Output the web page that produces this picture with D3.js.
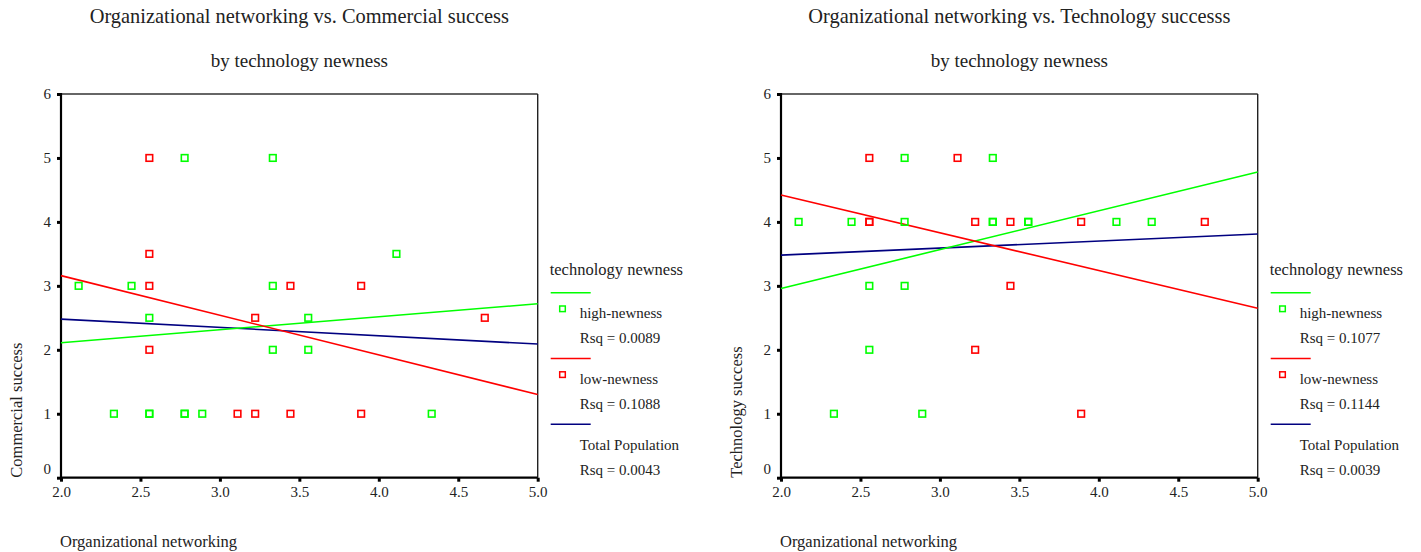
<!DOCTYPE html>
<html>
<head>
<meta charset="utf-8">
<script src="https://cdn.jsdelivr.net/npm/d3@7"></script>
<style>
  html, body { margin: 0; padding: 0; background: #fff; }
  svg { display: block; }
  text { font-family: "Liberation Serif", "DejaVu Serif", serif; fill: #222; }
</style>
</head>
<body>
<svg id="chart" width="1421" height="552"></svg>
<script>
// Axis ticks
const xTicks = [2.0, 2.5, 3.0, 3.5, 4.0, 4.5, 5.0];
const yTicks = [0, 1, 2, 3, 4, 5, 6];

// Organizational networking (x) vs. Commercial success (y)
const commercialHigh = [[2.778,5],[3.333,5],[2.111,3],[2.444,3],[3.333,3],[2.556,2.5],[4.111,3.5],[3.556,2.5],[3.333,2],[3.556,2],[2.333,1],[2.556,1],[2.556,1],[2.778,1],[2.778,1],[2.889,1],[4.333,1]];
const commercialLow = [[2.556,5],[2.556,3.5],[2.556,3],[3.444,3],[3.222,2.5],[3.889,3],[4.667,2.5],[2.556,2],[3.111,1],[3.222,1],[3.444,1],[3.889,1]];

// Organizational networking (x) vs. Technology success (y)
const technologyHigh = [[2.778,5],[3.333,5],[2.111,4],[2.444,4],[2.778,4],[3.333,4],[3.333,4],[3.556,4],[3.556,4],[4.111,4],[4.333,4],[2.556,3],[2.778,3],[2.556,2],[2.333,1],[2.889,1]];
const technologyLow = [[2.556,5],[3.111,5],[2.556,4],[2.556,4],[3.222,4],[3.444,4],[3.889,4],[4.667,4],[3.444,3],[3.222,2],[3.889,1]];

// Linear fit lines: fitted y at x = 2.0 and x = 5.0
const commercialFitHigh = [2.11, 2.72];
const commercialFitLow = [3.16, 1.30];
const commercialFitTotal = [2.48, 2.09];
const technologyFitHigh = [2.96, 4.78];
const technologyFitLow = [4.42, 2.65];
const technologyFitTotal = [3.48, 3.81];

// Legend
const groupNames = ["high-newness", "low-newness", "Total Population"];
const commercialRsq = ["0.0089", "0.1088", "0.0043"];
const technologyRsq = ["0.1077", "0.1144", "0.0039"];

const colors = { high: "#00ff00", low: "#ff0000", total: "#000080" };

const svg = d3.select("#chart");

function drawPanel(cfg) {
  const x0 = cfg.left, x1 = cfg.left + 476.7;
  const yTop = 94, yBot = 477.7;
  const x = d3.scaleLinear().domain([2, 5]).range([x0, x1]);
  const y = d3.scaleLinear().domain([0, 6]).range([yBot, yTop]);
  const g = svg.append("g");

  // Titles
  const cx = (x0 + x1) / 2;
  g.append("text").attr("x", cx).attr("y", 23).attr("text-anchor", "middle")
    .style("font-size", "20.4px").text(cfg.title);
  g.append("text").attr("x", cx).attr("y", 67).attr("text-anchor", "middle")
    .style("font-size", "19px").text("by technology newness");

  // Frame: top and right edges
  g.append("line").attr("x1", x0).attr("x2", x1).attr("y1", yTop).attr("y2", yTop)
    .attr("stroke", "#333").attr("stroke-width", 1.6);
  g.append("line").attr("x1", x1).attr("x2", x1).attr("y1", yTop).attr("y2", yBot)
    .attr("stroke", "#222").attr("stroke-width", 1.4);

  // Axes
  const yAxis = d3.axisLeft(y).tickValues(yTicks).tickFormat(d3.format("d"))
    .tickSize(4).tickPadding(6);
  const gy = g.append("g").attr("transform", `translate(${x0},0)`).call(yAxis);
  const xAxis = d3.axisBottom(x).tickValues(xTicks).tickFormat(d3.format(".1f"))
    .tickSize(4).tickPadding(5);
  const gx = g.append("g").attr("transform", `translate(0,${yBot})`).call(xAxis);
  [gx, gy].forEach(a => {
    a.select(".domain").remove();
    a.selectAll(".tick line").attr("stroke", "#000").attr("stroke-width", 3);
    a.selectAll(".tick text").style("font-family", "Liberation Serif, serif")
      .style("font-size", "15px").attr("fill", "#222");
  });
  gy.selectAll(".tick text").filter(d => d === 0).attr("dy", "-0.3em");

  g.append("line").attr("x1", x0).attr("x2", x0).attr("y1", yTop - 1).attr("y2", yBot + 1)
    .attr("stroke", "#000").attr("stroke-width", 2.2);
  g.append("line").attr("x1", x0 - 1).attr("x2", x1).attr("y1", yBot).attr("y2", yBot)
    .attr("stroke", "#000").attr("stroke-width", 2.2);

  // Axis labels
  g.append("text").attr("x", x0 - 1).attr("y", 547).style("font-size", "16.5px")
    .text("Organizational networking");
  g.append("text").attr("transform", `translate(${x0 - 39},${yBot}) rotate(-90)`)
    .style("font-size", "16.5px").text(cfg.yLabel);

  // Fit lines
  const fit = (vals, c) => g.append("line")
    .attr("x1", x(2)).attr("y1", y(vals[0])).attr("x2", x(5)).attr("y2", y(vals[1]))
    .attr("stroke", c).attr("stroke-width", 1.6);
  fit(cfg.fitTotal, colors.total);
  fit(cfg.fitHigh, colors.high);
  fit(cfg.fitLow, colors.low);

  // Points
  const pts = (data, c) => g.append("g").selectAll("rect").data(data).join("rect")
    .attr("x", d => x(d[0]) - 3.3).attr("y", d => y(d[1]) - 3.3)
    .attr("width", 6.6).attr("height", 6.6)
    .attr("fill", "none").attr("stroke", c).attr("stroke-width", 1.6);
  pts(cfg.high, colors.high);
  pts(cfg.low, colors.low);

  // Legend
  const lx = x1 + 13;
  const lg = g.append("g");
  lg.append("text").attr("x", lx - 1).attr("y", 275).style("font-size", "16.5px")
    .text("technology newness");
  const entries = [
    { name: groupNames[0], rsq: cfg.rsq[0], c: colors.high, marker: true },
    { name: groupNames[1], rsq: cfg.rsq[1], c: colors.low, marker: true },
    { name: groupNames[2], rsq: cfg.rsq[2], c: colors.total, marker: false }
  ];
  entries.forEach((e, i) => {
    const top = 292.7 + i * 65.8;
    lg.append("line").attr("x1", lx).attr("x2", lx + 40).attr("y1", top).attr("y2", top)
      .attr("stroke", e.c).attr("stroke-width", 1.6);
    if (e.marker) {
      lg.append("rect").attr("x", lx + 9).attr("y", top + 13.3).attr("width", 5.6).attr("height", 5.6)
        .attr("fill", "none").attr("stroke", e.c).attr("stroke-width", 1.5);
    }
    lg.append("text").attr("x", lx + 29).attr("y", top + 20).attr("dy", "0.35em")
      .style("font-size", "15px").text(e.name);
    lg.append("text").attr("x", lx + 29).attr("y", top + 45.5).attr("dy", "0.35em")
      .style("font-size", "15px").text("Rsq = " + e.rsq);
  });
}

drawPanel({
  left: 61,
  title: "Organizational networking vs. Commercial success",
  yLabel: "Commercial success",
  high: commercialHigh, low: commercialLow,
  fitHigh: commercialFitHigh, fitLow: commercialFitLow, fitTotal: commercialFitTotal,
  rsq: commercialRsq
});
drawPanel({
  left: 781,
  title: "Organizational networking vs. Technology successs",
  yLabel: "Technology success",
  high: technologyHigh, low: technologyLow,
  fitHigh: technologyFitHigh, fitLow: technologyFitLow, fitTotal: technologyFitTotal,
  rsq: technologyRsq
});
</script>
</body>
</html>
